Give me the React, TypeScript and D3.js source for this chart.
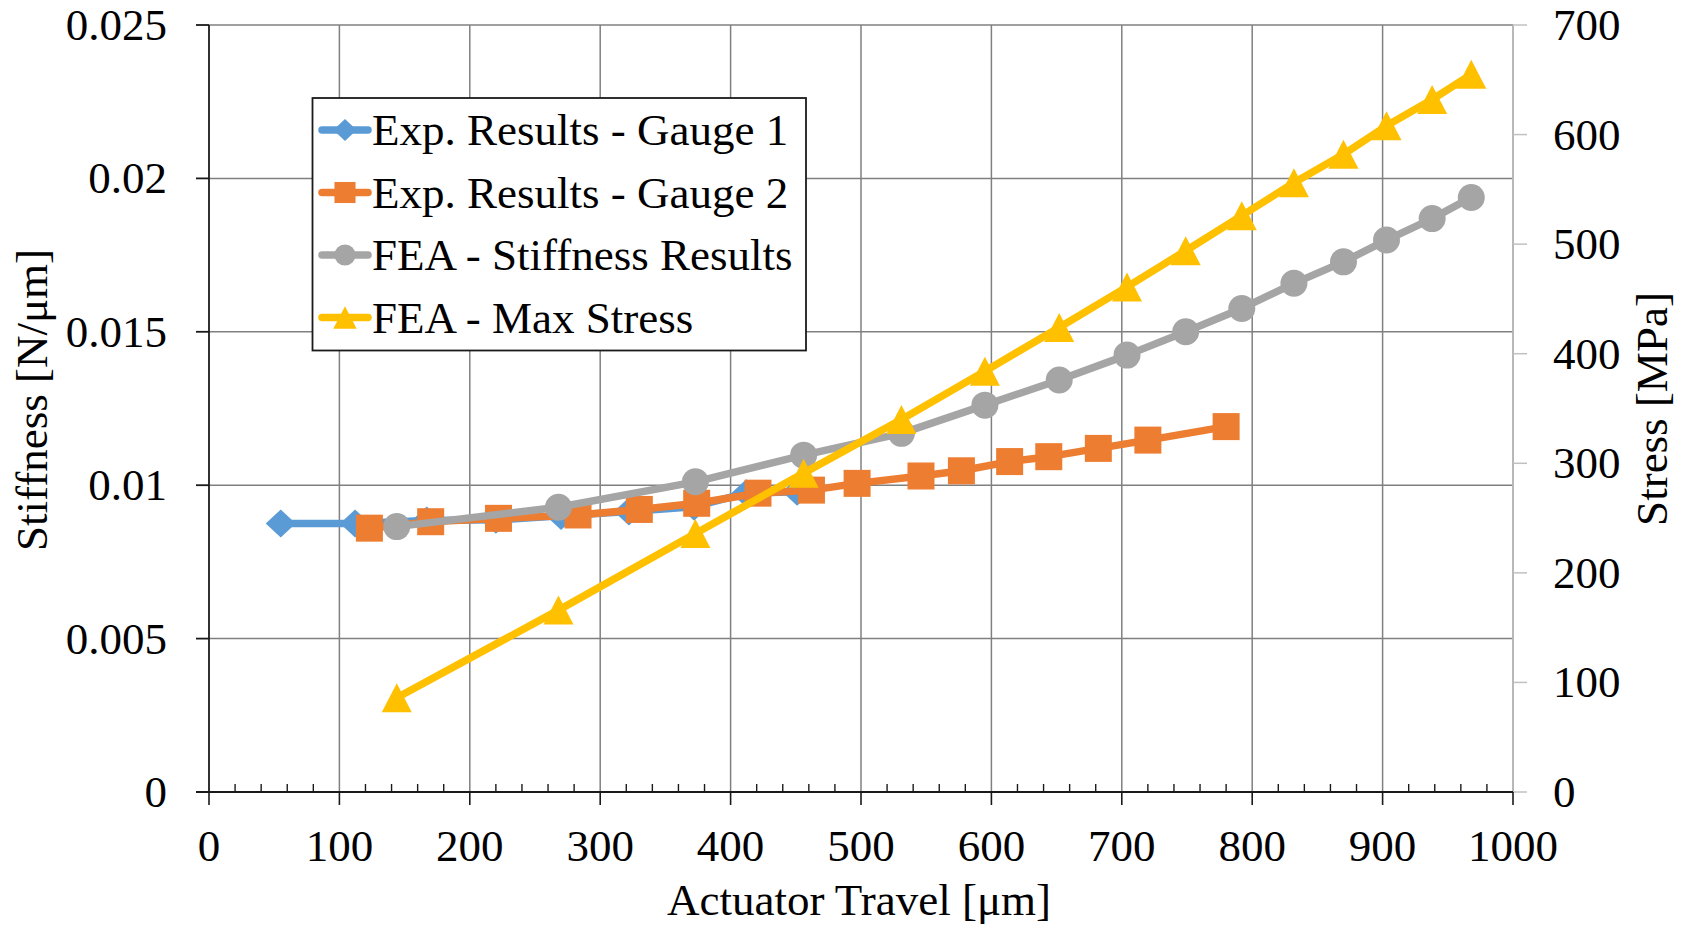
import React from "react";
import * as d3 from "d3";

const gauge1X = [55, 112, 167, 220, 270, 322, 372, 412, 451];
const gauge1Y = [0.00875, 0.00875, 0.00885, 0.00887, 0.009, 0.00914, 0.0093, 0.00974, 0.00979];

const gauge2X = [123, 170, 222, 283, 330, 374, 421, 462, 497, 546, 577, 614, 644, 682, 720, 780];
const gauge2Y = [0.0086, 0.00881, 0.00892, 0.00903, 0.00921, 0.00941, 0.00974, 0.00984, 0.01006, 0.0103, 0.01047, 0.01077, 0.01093, 0.0112, 0.01147, 0.01191];

const feaX = [144, 268, 373, 456, 531, 595, 652, 704, 749, 792, 832, 870, 903, 938, 968];
const feaStiffness = [0.00865, 0.00928, 0.01011, 0.01098, 0.01169, 0.01261, 0.01343, 0.01424, 0.015, 0.01576, 0.01658, 0.01728, 0.01799, 0.01869, 0.01938];
const feaStress = [86, 166, 236, 291, 340, 384, 424, 461, 494, 526, 556, 582, 608, 632, 655];

const xTicks = [0, 100, 200, 300, 400, 500, 600, 700, 800, 900, 1000];
const leftTicks = [0, 0.005, 0.01, 0.015, 0.02, 0.025];
const leftTickLabels = ["0", "0.005", "0.01", "0.015", "0.02", "0.025"];
const rightTicks = [0, 100, 200, 300, 400, 500, 600, 700];

const seriesNames = ["Exp. Results - Gauge 1", "Exp. Results - Gauge 2", "FEA - Stiffness Results", "FEA - Max Stress"];
const seriesColors = ["#5B9BD5", "#ED7D31", "#A5A5A5", "#FFC000"];
const seriesShapes = ["diamond", "square", "circle", "triangle"];

const W = 1690, H = 930;
const L = 209, R = 1513, T = 25, B = 792;
const FONT = "'Liberation Serif', 'Times New Roman', serif";
const FS = 45;

function Marker({ shape, x, y, color, s = 1 }: { shape: string; x: number; y: number; color: string; s?: number }) {
  if (shape === "diamond") {
    const w = 15 * s, h = 14 * s;
    return <path d={`M${x},${y - h}L${x + w},${y}L${x},${y + h}L${x - w},${y}Z`} fill={color} />;
  }
  if (shape === "square") {
    const h = 13.5 * s;
    return <rect x={x - h} y={y - h} width={2 * h} height={2 * h} fill={color} />;
  }
  if (shape === "circle") {
    return <circle cx={x} cy={y} r={13.5 * s} fill={color} />;
  }
  const w = 15 * s, h = 14.5 * s;
  return <path d={`M${x},${y - h}L${x + w},${y + h}L${x - w},${y + h}Z`} fill={color} />;
}

export default function App() {
  const x = d3.scaleLinear().domain([0, 1000]).range([L, R]);
  const yL = d3.scaleLinear().domain([0, 0.025]).range([B, T]);
  const yR = d3.scaleLinear().domain([0, 700]).range([B, T]);

  const series = [
    { xs: gauge1X, ys: gauge1Y, y: yL },
    { xs: gauge2X, ys: gauge2Y, y: yL },
    { xs: feaX, ys: feaStiffness, y: yL },
    { xs: feaX, ys: feaStress, y: yR },
  ];

  const minor: number[] = d3.range(0, 1001, 20).filter((v) => v % 100 !== 0);

  const legX = 312.5, legY = 98, legW = 493.5, legH = 252.5;
  const rowY = [130, 192.5, 255, 317.5];

  return (
    <div style={{ position: "fixed", left: 0, top: 0, width: W, height: H, background: "#fff" }}>
      <svg width={W} height={H} style={{ display: "block" }} fontFamily={FONT}>
        <rect width={W} height={H} fill="#fff" />
        {xTicks.slice(1).map((t) => (
          <line key={"vg" + t} x1={x(t)} x2={x(t)} y1={T} y2={B} stroke="#808080" strokeWidth={1.5} />
        ))}
        {leftTicks.slice(1).map((t) => (
          <line key={"hg" + t} x1={L} x2={R} y1={yL(t)} y2={yL(t)} stroke="#808080" strokeWidth={1.5} />
        ))}
        <line x1={R} x2={R} y1={T} y2={B} stroke="#c0c0c0" strokeWidth={1.5} />
        {rightTicks.map((t) => (
          <line key={"rt" + t} x1={R} x2={R + 14} y1={yR(t)} y2={yR(t)} stroke="#c0c0c0" strokeWidth={1.5} />
        ))}
        {rightTicks.map((t) => (
          <text key={"rl" + t} x={1553} y={yR(t) + 15} fontSize={FS} fill="#000">{t}</text>
        ))}
        <line x1={L} x2={L} y1={T} y2={B} stroke="#1a1a1a" strokeWidth={1.8} />
        {leftTicks.map((t) => (
          <line key={"lt" + t} x1={L - 13} x2={L} y1={yL(t)} y2={yL(t)} stroke="#1a1a1a" strokeWidth={1.8} />
        ))}
        {leftTicks.map((t, i) => (
          <text key={"ll" + t} x={167} y={yL(t) + 15} fontSize={FS} textAnchor="end" fill="#000">{leftTickLabels[i]}</text>
        ))}
        <line x1={L - 13} x2={R} y1={B} y2={B} stroke="#1a1a1a" strokeWidth={2} />
        {xTicks.map((t) => (
          <line key={"xt" + t} x1={x(t)} x2={x(t)} y1={B} y2={B + 13} stroke="#1a1a1a" strokeWidth={1.6} />
        ))}
        {minor.map((t) => (
          <line key={"mt" + t} x1={x(t)} x2={x(t)} y1={B - 8} y2={B} stroke="#1a1a1a" strokeWidth={1.4} />
        ))}
        {xTicks.map((t) => (
          <text key={"xl" + t} x={x(t)} y={861} fontSize={FS} textAnchor="middle" fill="#000">{t}</text>
        ))}
        <text x={(L + R) / 2 - 2} y={915} fontSize={FS} textAnchor="middle" fill="#000">Actuator Travel [μm]</text>
        <text transform="translate(47,400) rotate(-90)" fontSize={FS} textAnchor="middle" fill="#000">Stiffness [N/μm]</text>
        <text transform="translate(1667,409) rotate(-90)" fontSize={FS} textAnchor="middle" fill="#000">Stress [MPa]</text>
        {series.map((s, si) => {
          const pts: [number, number][] = s.xs.map((v, i) => [x(v), s.y(s.ys[i])]);
          const path = d3.line()(pts) || "";
          return (
            <g key={"s" + si}>
              <path d={path} fill="none" stroke={seriesColors[si]} strokeWidth={7.5} strokeLinejoin="round" strokeLinecap="round" />
              {pts.map((p, i) => (
                <Marker key={i} shape={seriesShapes[si]} x={p[0]} y={p[1]} color={seriesColors[si]} />
              ))}
            </g>
          );
        })}
        <rect x={legX} y={legY} width={legW} height={legH} fill="#fff" stroke="#1a1a1a" strokeWidth={1.8} />
        {seriesNames.map((n, i) => (
          <g key={"lg" + i}>
            <line x1={322} x2={368} y1={rowY[i]} y2={rowY[i]} stroke={seriesColors[i]} strokeWidth={7.5} strokeLinecap="round" />
            <Marker shape={seriesShapes[i]} x={345} y={rowY[i]} color={seriesColors[i]} s={0.78} />
            <text x={372} y={rowY[i] + 15} fontSize={FS} fill="#000">{n}</text>
          </g>
        ))}
      </svg>
    </div>
  );
}
